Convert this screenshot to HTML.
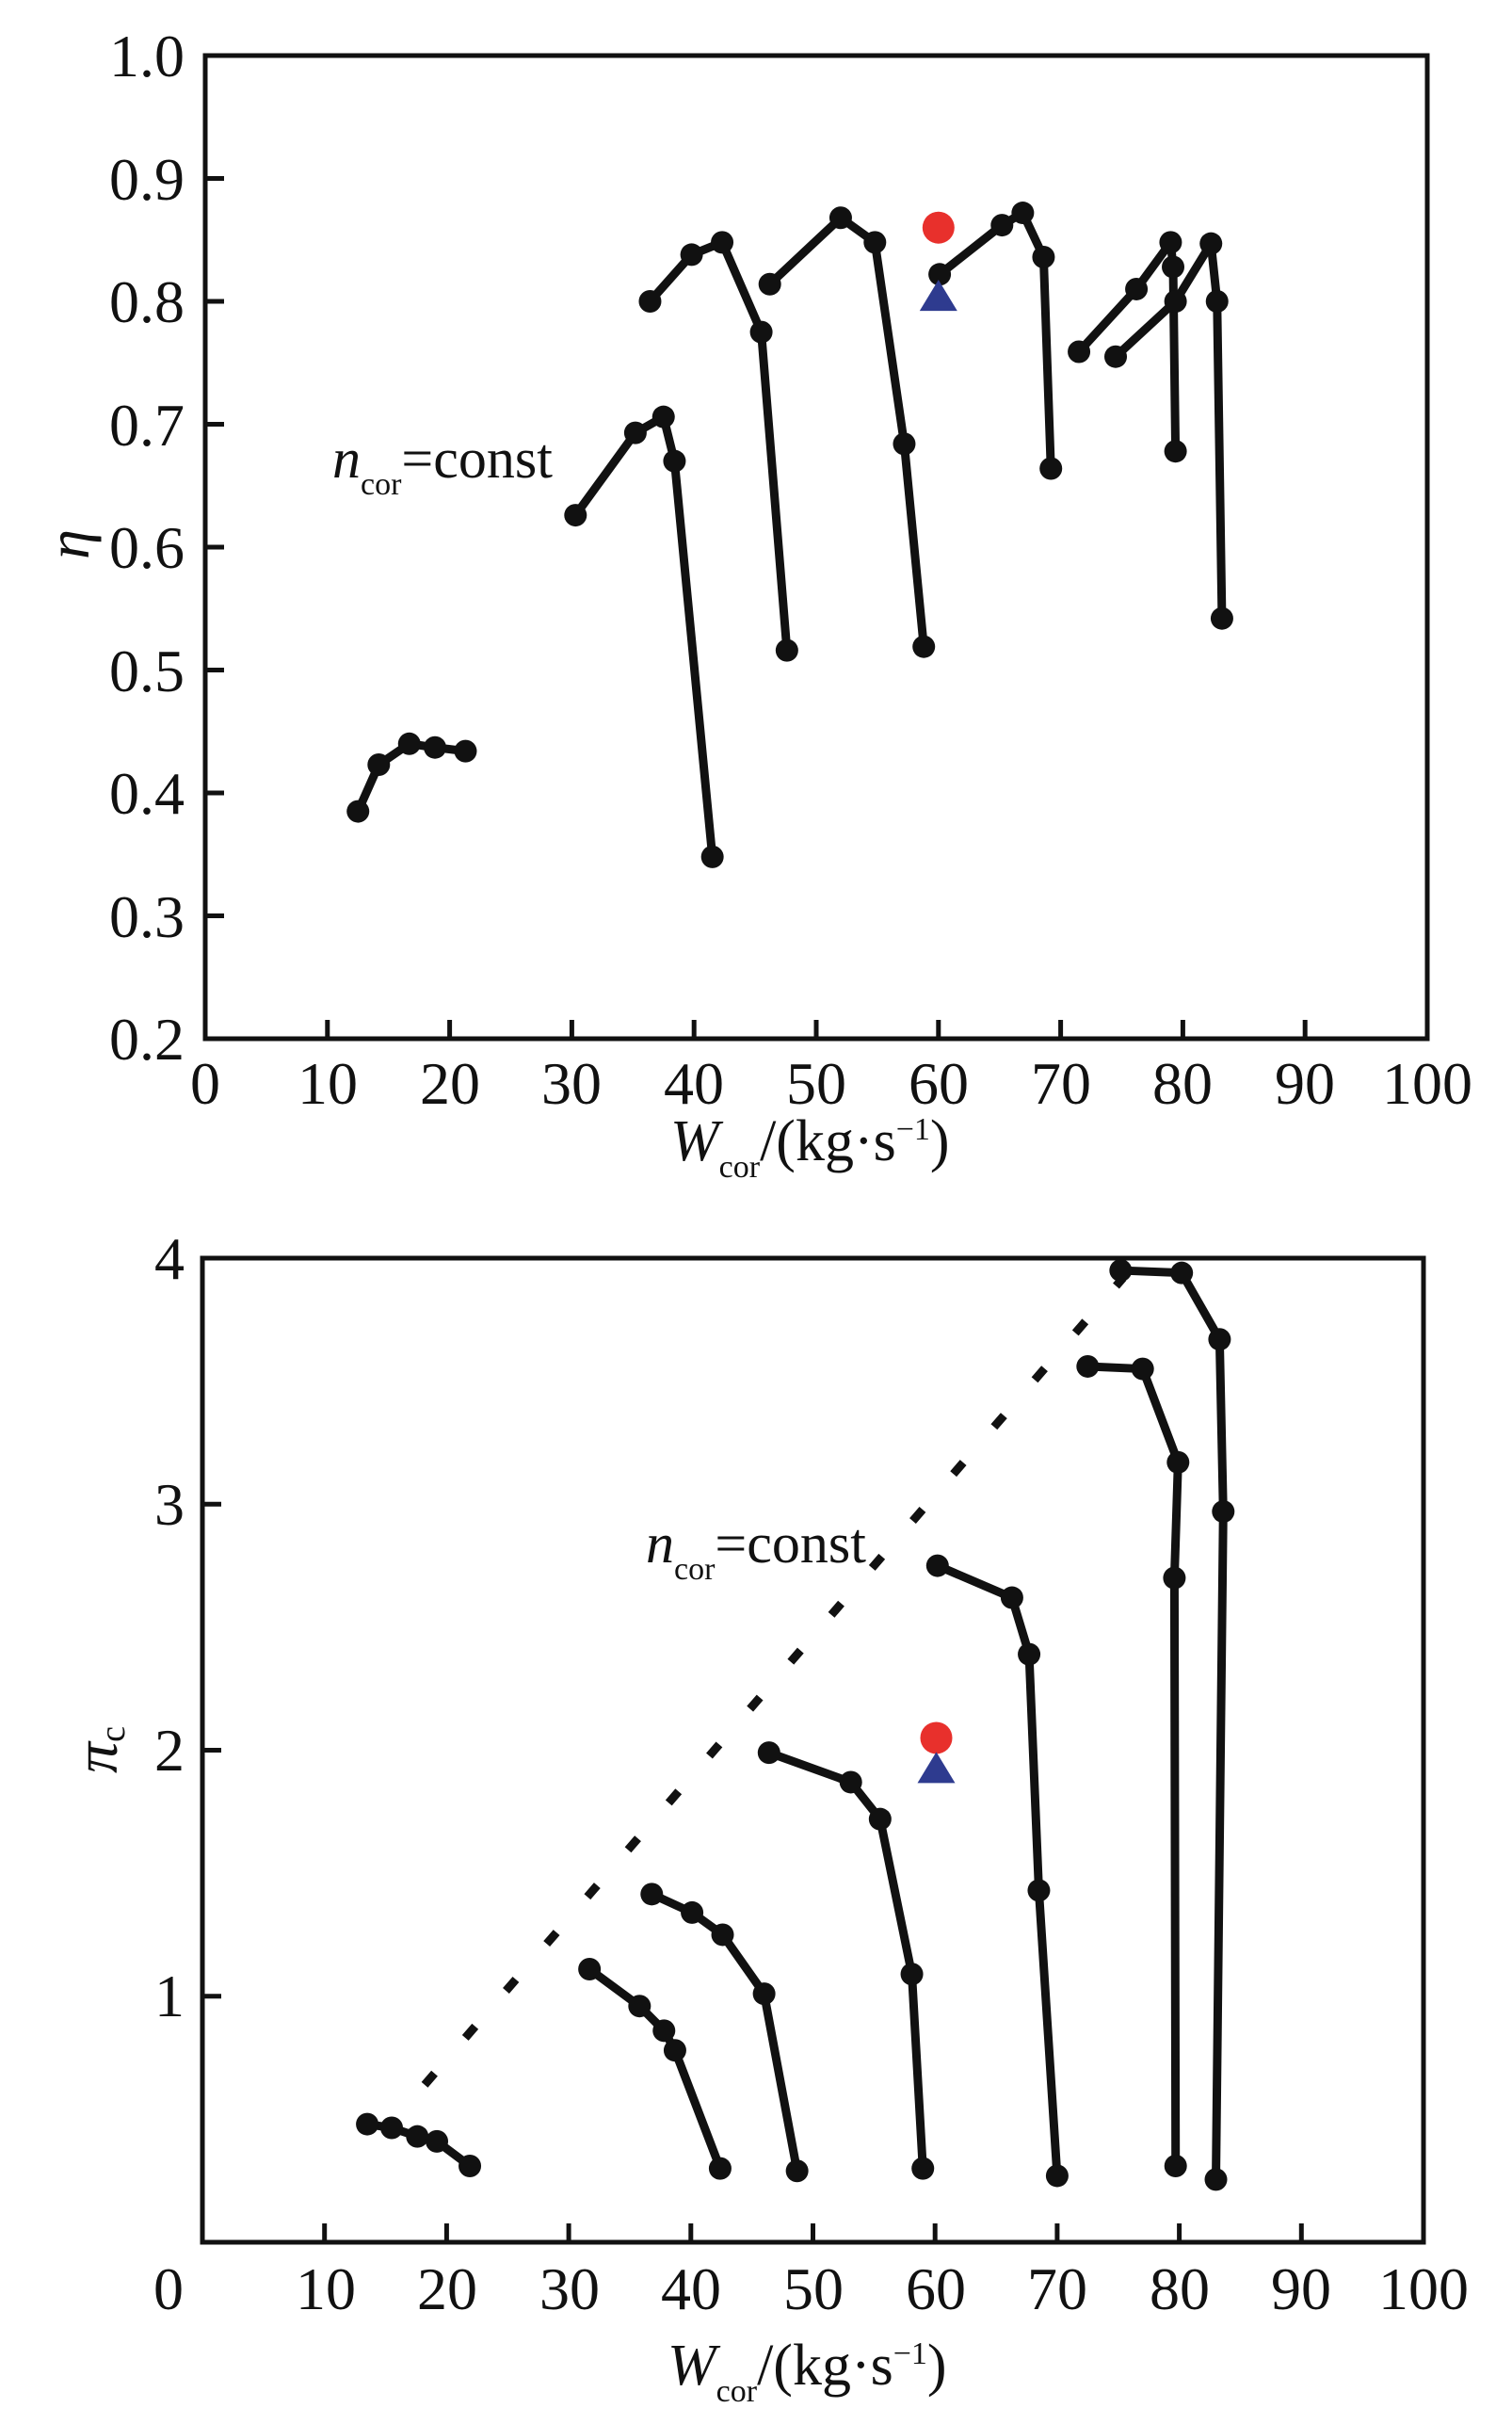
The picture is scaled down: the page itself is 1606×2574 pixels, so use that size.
<!DOCTYPE html>
<html><head><meta charset="utf-8"><style>
html,body{margin:0;padding:0;background:#fff;}
svg{display:block;}
text{font-family:"Liberation Serif",serif;fill:#111;}
</style></head><body>
<svg id="s" width="1606" height="2574" viewBox="0 0 1606 2574" xmlns="http://www.w3.org/2000/svg">
<rect width="1606" height="2574" fill="#fff"/>
<g id="g"></g>
<g font-size="64" text-anchor="end">
<text x="196" y="81">1.0</text><text x="196" y="212">0.9</text><text x="196" y="342">0.8</text><text x="196" y="473">0.7</text>
<text x="196" y="603">0.6</text><text x="196" y="734">0.5</text><text x="196" y="864">0.4</text><text x="196" y="995">0.3</text><text x="196" y="1125">0.2</text>
</g>
<g font-size="64" text-anchor="middle">
<text x="218" y="1172">0</text><text x="348" y="1172">10</text><text x="478" y="1172">20</text><text x="607" y="1172">30</text>
<text x="737" y="1172">40</text><text x="867" y="1172">50</text><text x="997" y="1172">60</text><text x="1127" y="1172">70</text>
<text x="1256" y="1172">80</text><text x="1386" y="1172">90</text><text x="1516" y="1172">100</text>
</g>
<text x="712" y="1232" font-size="62"><tspan font-style="italic">W</tspan><tspan font-size="34" dy="18">cor</tspan><tspan dy="-18">/(kg·s</tspan><tspan font-size="34" dy="-22">−1</tspan><tspan dy="22">)</tspan></text>
<text transform="translate(94,578) rotate(-90)" font-size="64" font-style="italic" text-anchor="middle">η</text>
<text x="353" y="507" font-size="60"><tspan font-style="italic">n</tspan><tspan font-size="34" dy="18">cor</tspan><tspan dy="-18">=const</tspan></text>
<g font-size="64" text-anchor="end">
<text x="196" y="1358">4</text><text x="196" y="1619">3</text><text x="196" y="1880">2</text><text x="196" y="2141">1</text>
</g>
<g font-size="64" text-anchor="middle">
<text x="179" y="2452">0</text><text x="346" y="2452">10</text><text x="475" y="2452">20</text><text x="605" y="2452">30</text>
<text x="734" y="2452">40</text><text x="864" y="2452">50</text><text x="994" y="2452">60</text><text x="1123" y="2452">70</text>
<text x="1253" y="2452">80</text><text x="1382" y="2452">90</text><text x="1512" y="2452">100</text>
</g>
<text x="709" y="2532" font-size="62"><tspan font-style="italic">W</tspan><tspan font-size="34" dy="18">cor</tspan><tspan dy="-18">/(kg·s</tspan><tspan font-size="34" dy="-22">−1</tspan><tspan dy="22">)</tspan></text>
<text transform="translate(124,1858) rotate(-90)" font-size="66" text-anchor="middle"><tspan font-style="italic">π</tspan><tspan font-size="38" dy="8">c</tspan></text>
<text x="686" y="1659" font-size="60"><tspan font-style="italic">n</tspan><tspan font-size="34" dy="18">cor</tspan><tspan dy="-18">=const</tspan></text>
</svg>
<script>
var NS="http://www.w3.org/2000/svg",g=document.getElementById("g");
function el(n,a){var e=document.createElementNS(NS,n);for(var k in a)e.setAttribute(k,a[k]);g.appendChild(e);return e;}
function plot(P){
 el("rect",{x:P.l,y:P.t,width:P.r-P.l,height:P.b-P.t,fill:"none",stroke:"#111","stroke-width":5});
 var X=function(v){return P.l+(v-P.x0)/(P.x1-P.x0)*(P.r-P.l);},Y=function(v){return P.b-(v-P.y0)/(P.y1-P.y0)*(P.b-P.t);};
 P.xt.forEach(function(v){el("line",{x1:X(v),x2:X(v),y1:P.b,y2:P.b-20,stroke:"#111","stroke-width":5});});
 P.yt.forEach(function(v){el("line",{x1:P.l,x2:P.l+20,y1:Y(v),y2:Y(v),stroke:"#111","stroke-width":5});});
 if(P.dot){el("line",{x1:X(P.dot[0]),y1:Y(P.dot[1]),x2:X(P.dot[2]),y2:Y(P.dot[3]),stroke:"#111","stroke-width":9,"stroke-dasharray":"16 50"});}
 P.c.forEach(function(c){
  el("polyline",{points:c.map(function(p){return X(p[0])+","+Y(p[1]);}).join(" "),fill:"none",stroke:"#111","stroke-width":9,"stroke-linejoin":"round"});
  c.forEach(function(p){el("circle",{cx:X(p[0]),cy:Y(p[1]),r:12,fill:"#111"});});
 });
 var rx=X(P.red[0]),ry=Y(P.red[1]);el("ellipse",{cx:rx,cy:ry,rx:17,ry:17,fill:"#e8302c"});
 var bx=X(P.blue[0]),by=Y(P.blue[1]);el("polygon",{points:(bx-20)+","+(by+14)+" "+(bx+20)+","+(by+14)+" "+bx+","+(by-19),fill:"#2e3b8f"});
}
var xt=[10,20,30,40,50,60,70,80,90];
plot({l:218,r:1516,t:59,b:1103,x0:0,x1:100,y0:0.2,y1:1.0,xt:xt,yt:[0.3,0.4,0.5,0.6,0.7,0.8,0.9],
 c:[[[12.5,.385],[14.2,.423],[16.7,.44],[18.8,.437],[21.3,.434]],
 [[30.3,.626],[35.2,.693],[37.5,.706],[38.4,.67],[41.5,.348]],
 [[36.4,.8],[39.8,.838],[42.3,.848],[45.5,.775],[47.6,.516]],
 [[46.2,.814],[52,.868],[54.8,.848],[57.2,.684],[58.8,.519]],
 [[60.1,.822],[65.2,.862],[66.9,.872],[68.6,.836],[69.2,.664]],
 [[71.5,.759],[76.2,.81],[79,.848],[79.2,.828],[79.4,.678]],
 [[74.5,.755],[79.4,.8],[82.3,.847],[82.8,.8],[83.2,.542]]],
 red:[60,.86],blue:[60,.803]});
plot({l:215,r:1512,t:1336,b:2381,x0:0,x1:100,y0:0,y1:4,xt:xt,yt:[1,2,3],dot:[18.2,.64,75.4,3.92],
 c:[[[13.5,.48],[15.5,.465],[17.6,.43],[19.2,.41],[21.9,.31]],
 [[31.7,1.11],[35.8,.96],[37.8,.86],[38.7,.78],[42.4,.3]],
 [[36.8,1.415],[40.1,1.34],[42.6,1.25],[46,1.01],[48.7,.29]],
 [[46.4,1.99],[53.1,1.87],[55.5,1.72],[58.1,1.09],[59,.3]],
 [[60.2,2.75],[66.3,2.62],[67.7,2.39],[68.5,1.43],[70,.27]],
 [[72.5,3.56],[77,3.55],[79.9,3.17],[79.6,2.7],[79.7,.31]],
 [[75.2,3.95],[80.2,3.94],[83.3,3.67],[83.6,2.97],[83,.255]]],
 red:[60.1,2.05],blue:[60.1,1.92]});
</script>
</body></html>
